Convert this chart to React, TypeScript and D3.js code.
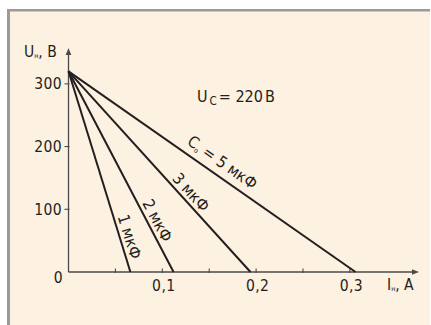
import * as d3 from 'd3';

// load line data
const capLabels = ['1 мкФ', '2 мкФ', '3 мкФ', '5 мкФ'];
const shortCurrent = [0.066, 0.112, 0.194, 0.306]; // A, where U = 0
const openVoltage = 320; // V, where I = 0
const labelAt = [52, 75, 117, 157]; // V along each line where its label sits
const labelLift = [4, 4, 4, 8];

const yTicks = [0, 100, 200, 300];
const xTicks = [0.05, 0.1, 0.15, 0.2, 0.25, 0.3];
const xTickLabels = ['', '0,1', '', '0,2', '', '0,3'];

const W = 431;
const H = 325;
const font = "'Liberation Sans Narrow', 'Arial Narrow', 'DejaVu Sans Condensed', sans-serif";
const ink = '#231f20';
const axisInk = '#4a4a4a';

const App = () => {
  const x = d3.scaleLinear().domain([0, 0.35]).range([68.5, 396.8]);
  const y = d3.scaleLinear().domain([0, 350]).range([272, 52.5]);

  const line = d3
    .line<{ i: number; u: number }>()
    .x((d) => x(d.i))
    .y((d) => y(d.u));

  const x0 = x(0);
  const y0 = y(0);

  return (
    <div style={{ position: 'fixed', left: 0, top: 0 }}>
      <svg width={W} height={H} style={{ display: 'block', fontFamily: font }}>
        <rect x={0} y={0} width={W} height={H} fill='#ffffff' />
        <rect x={7} y={9} width={423} height={H - 9} fill='#9a9a9a' />
        <rect x={10} y={11.5} width={420} height={H - 11} fill='#fdf1e1' />

        {/* axes */}
        <line x1={x0} y1={y0} x2={414} y2={y0} stroke={axisInk} strokeWidth={1.3} />
        <path d={`M419,${y0} L412,${y0 - 2.8} L412,${y0 + 2.8} Z`} fill={axisInk} />
        <line x1={x0} y1={y0} x2={x0} y2={54} stroke={axisInk} strokeWidth={1.3} />
        <path d={`M${x0},48 L${x0 - 2.8},55 L${x0 + 2.8},55 Z`} fill={axisInk} />

        {xTicks.map((t, i) => (
          <g key={'xt' + i}>
            <line x1={x(t)} x2={x(t)} y1={y0 - 3.5} y2={y0 + 1} stroke={axisInk} strokeWidth={1.1} />
            {xTickLabels[i] && (
              <text x={x(t) + 1.5} y={291} fontSize={15.5} letterSpacing={0.4} textAnchor='middle' fill={ink}>
                {xTickLabels[i]}
              </text>
            )}
          </g>
        ))}

        {yTicks.map((t) => (
          <g key={'yt' + t}>
            {t > 0 && (
              <line x1={x0 - 4} x2={x0 + 1} y1={y(t)} y2={y(t)} stroke={axisInk} strokeWidth={1.1} />
            )}
            <text
              x={t > 0 ? 62 : 63}
              y={t > 0 ? y(t) + 5.5 : y(t) + 10.5}
              fontSize={15.5}
              letterSpacing={0.4}
              textAnchor='end'
              fill={ink}
            >
              {t}
            </text>
          </g>
        ))}

        {/* axis titles */}
        <text x={24} y={57} fontSize={15.5} fill={ink}>
          U<tspan fontSize={7} dy={1}>н</tspan>
          <tspan dy={-1}>, В</tspan>
        </text>
        <text x={387} y={290} fontSize={15.5} fill={ink}>
          I<tspan fontSize={7} dy={1}>н</tspan>
          <tspan dy={-1}>, А</tspan>
        </text>
        <text x={197} y={102} fontSize={16} fill={ink}>
          U<tspan fontSize={11.5} dx={2} dy={3}>C</tspan>
          <tspan dx={2} dy={-3}>= 220</tspan>
          <tspan dx={2}>В</tspan>
        </text>

        {/* load lines */}
        {shortCurrent.map((ik, k) => (
          <path
            key={'l' + k}
            d={line([
              { i: 0, u: openVoltage },
              { i: ik, u: 0 },
            ]) as string}
            fill='none'
            stroke={ink}
            strokeWidth={2}
          />
        ))}

        {shortCurrent.map((ik, k) => {
          const u = labelAt[k];
          const px = x(ik * (1 - u / openVoltage));
          const py = y(u);
          const ang = (Math.atan2(y(0) - y(openVoltage), x(ik) - x(0)) * 180) / Math.PI;
          return (
            <text
              key={'t' + k}
              transform={`translate(${px},${py}) rotate(${ang})`}
              dy={-labelLift[k]}
              fontSize={16}
              textAnchor='middle'
              fill={ink}
            >
              {k === 3 ? (
                <>
                  C<tspan fontSize={7} dy={2}>о</tspan>
                  <tspan dy={-2}> = {capLabels[k]}</tspan>
                </>
              ) : (
                capLabels[k]
              )}
            </text>
          );
        })}
      </svg>
    </div>
  );
};

export default App;
